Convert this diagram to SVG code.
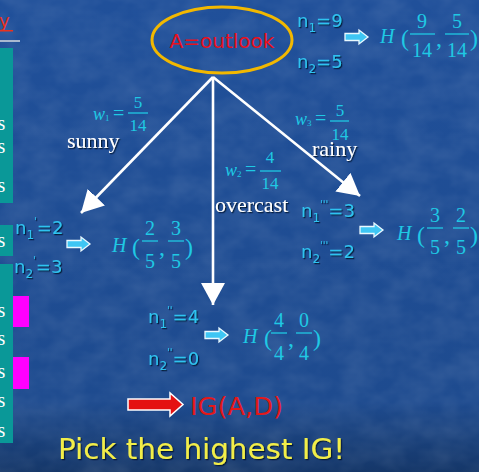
<svg xmlns="http://www.w3.org/2000/svg" width="479" height="472" viewBox="0 0 479 472">
  <defs>
    <linearGradient id="bg" x1="0" y1="0" x2="0" y2="1">
      <stop offset="0" stop-color="#20509a"/>
      <stop offset="0.85" stop-color="#1e4b8f"/>
      <stop offset="1" stop-color="#153769"/>
    </linearGradient>
    <filter id="tex" x="0" y="0" width="100%" height="100%">
      <feTurbulence type="fractalNoise" baseFrequency="0.035 0.05" numOctaves="3" seed="7"/>
      <feColorMatrix type="matrix" values="0 0 0 0 1  0 0 0 0 1  0 0 0 0 1  0 0 0 0.14 -0.04"/>
    </filter>
    <filter id="sh" x="-10%" y="-10%" width="130%" height="140%">
      <feDropShadow dx="1.2" dy="1.2" stdDeviation="0.4" flood-color="#031533" flood-opacity="0.9"/>
    </filter>
    <marker id="head" viewBox="0 0 22 24" refX="22" refY="12" markerWidth="22" markerHeight="24" markerUnits="userSpaceOnUse" orient="auto">
      <path d="M0,0 L22,12 L0,24 Z" fill="#ffffff"/>
    </marker>
    <path id="carrow" d="M0,-3.5 H14 V-7 L23,0 L14,7 V3.5 H0 Z" fill="#3ec6f4" stroke="#eaf9ff" stroke-width="1.3"/>
    <style>
      .n { font-family: "DejaVu Sans", sans-serif; font-size: 18px; fill: #2fc3f0; filter: url(#sh); }
      .sub { font-size: 12px; }
      .pr { font-size: 10px; }
      .m { font-family: "Liberation Serif", serif; fill: #1fc9e4; }
      .fr { font-size: 20px; text-anchor: middle; }
      .fw { font-size: 17px; text-anchor: middle; }
      .H { font-size: 20px; font-style: italic; }
      .par { font-size: 24px; }
      .wi { font-size: 18px; font-style: italic; }
      .ws { font-size: 9px; }
      .eq { font-size: 20px; }
      .bar { stroke: #1fc9e4; stroke-width: 1.3; }
      .lbl { font-family: "Liberation Serif", serif; font-size: 22px; fill: #ffffff; filter: url(#sh); }
      .s { font-family: "Liberation Serif", serif; font-size: 20px; fill: #ffffff; }
      .edge { stroke: #ffffff; stroke-width: 2.6; fill: none; marker-end: url(#head); }
    </style>
  </defs>

  <rect x="0" y="0" width="479" height="472" fill="url(#bg)"/>
  <rect x="0" y="0" width="479" height="472" filter="url(#tex)"/>

  <!-- left table fragment -->
  <g id="table-fragment">
    <text x="-1" y="27" font-family="DejaVu Sans, sans-serif" font-size="18" fill="#e8321e">y</text>
    <rect x="0" y="30" width="13" height="1.5" fill="#e8321e"/>
    <rect x="0" y="40" width="20" height="2" fill="#a8b8d0"/>
    <rect x="0" y="48" width="13" height="155" fill="#0a9898"/>
    <rect x="0" y="225" width="13" height="31" fill="#0a9898"/>
    <rect x="0" y="264" width="13" height="179" fill="#0a9898"/>
    <rect x="13" y="296" width="16" height="31" fill="#ff00ff"/>
    <rect x="13" y="357" width="16" height="32" fill="#ff00ff"/>
    <text class="s" x="-2.5" y="130">s</text>
    <text class="s" x="-2.5" y="153">s</text>
    <text class="s" x="-2.5" y="192">s</text>
    <text class="s" x="-2.5" y="247">s</text>
    <text class="s" x="-2.5" y="317">s</text>
    <text class="s" x="-2.5" y="345">s</text>
    <text class="s" x="-2.5" y="378">s</text>
    <text class="s" x="-2.5" y="407">s</text>
    <text class="s" x="-2.5" y="437">s</text>
  </g>

  <!-- connectors -->
  <g id="connectors">
    <line class="edge" x1="213" y1="77" x2="81" y2="213"/>
    <line class="edge" x1="213" y1="77" x2="213" y2="305"/>
    <line class="edge" x1="213" y1="77" x2="360" y2="196"/>
    <text class="lbl" x="67" y="148">sunny</text>
    <text class="lbl" x="215" y="212">overcast</text>
    <text class="lbl" x="312" y="156">rainy</text>
    <!-- w1 -->
    <g class="m">
      <text class="wi" x="93" y="120">w</text>
      <text class="ws" x="105" y="121">1</text>
      <text class="eq" x="113" y="120">=</text>
      <text class="fw" x="138" y="108">5</text>
      <line class="bar" x1="128" y1="113" x2="148" y2="113"/>
      <text class="fw" x="138" y="131">14</text>
    </g>
    <!-- w2 -->
    <g class="m">
      <text class="wi" x="225" y="176">w</text>
      <text class="ws" x="237" y="177">2</text>
      <text class="eq" x="245" y="176">=</text>
      <text class="fw" x="270" y="163">4</text>
      <line class="bar" x1="260" y1="171" x2="281" y2="171"/>
      <text class="fw" x="270" y="189">14</text>
    </g>
    <!-- w3 -->
    <g class="m">
      <text class="wi" x="295" y="125">w</text>
      <text class="ws" x="307" y="126">3</text>
      <text class="eq" x="315" y="125">=</text>
      <text class="fw" x="340" y="116">5</text>
      <line class="bar" x1="330" y1="121" x2="349" y2="121"/>
      <text class="fw" x="340" y="140">14</text>
    </g>
  </g>

  <!-- root node -->
  <g id="node-root">
    <ellipse cx="222" cy="40" rx="70" ry="33" fill="none" stroke="#f2b800" stroke-width="3"/>
    <text x="222" y="48" text-anchor="middle" font-family="DejaVu Sans, sans-serif" font-size="20" fill="#e8101c">A=outlook</text>
  </g>

  <!-- root statistics -->
  <g id="node-root-stats">
    <text class="n" x="297" y="27">n<tspan class="sub" dy="5">1</tspan><tspan dy="-5">=9</tspan></text>
    <text class="n" x="297" y="68">n<tspan class="sub" dy="5">2</tspan><tspan dy="-5">=5</tspan></text>
    <use href="#carrow" x="345" y="37"/>
    <g class="m">
      <text class="H" x="380" y="43">H</text>
      <text class="par" x="401" y="46">(</text>
      <text class="fr" x="422" y="28">9</text>
      <line class="bar" x1="410" y1="34" x2="435" y2="34"/>
      <text class="fr" x="422" y="57">14</text>
      <text class="par" x="436" y="46">,</text>
      <text class="fr" x="457" y="28">5</text>
      <line class="bar" x1="445" y1="34" x2="469" y2="34"/>
      <text class="fr" x="457" y="57">14</text>
      <text class="par" x="470" y="46">)</text>
    </g>
  </g>

  <!-- sunny branch -->
  <g id="node-sunny">
    <text class="n" x="15" y="234">n<tspan class="sub" dy="5">1</tspan><tspan class="pr" dy="-14">'</tspan><tspan dy="9">=2</tspan></text>
    <text class="n" x="14" y="273">n<tspan class="sub" dy="5">2</tspan><tspan class="pr" dy="-14">'</tspan><tspan dy="9">=3</tspan></text>
    <use href="#carrow" x="67" y="244"/>
    <g class="m">
      <text class="H" x="112" y="252">H</text>
      <text class="par" x="132" y="255">(</text>
      <text class="fr" x="150" y="235">2</text>
      <line class="bar" x1="142" y1="241" x2="158" y2="241"/>
      <text class="fr" x="150" y="268">5</text>
      <text class="par" x="159" y="255">,</text>
      <text class="fr" x="176" y="235">3</text>
      <line class="bar" x1="168" y1="241" x2="184" y2="241"/>
      <text class="fr" x="176" y="268">5</text>
      <text class="par" x="185" y="255">)</text>
    </g>
  </g>

  <!-- overcast branch -->
  <g id="node-overcast">
    <text class="n" x="148" y="323">n<tspan class="sub" dy="5">1</tspan><tspan class="pr" dy="-14">''</tspan><tspan dy="9">=4</tspan></text>
    <text class="n" x="148" y="365">n<tspan class="sub" dy="5">2</tspan><tspan class="pr" dy="-14">''</tspan><tspan dy="9">=0</tspan></text>
    <use href="#carrow" x="205" y="335"/>
    <g class="m">
      <text class="H" x="243" y="343">H</text>
      <text class="par" x="264" y="346">(</text>
      <text class="fr" x="279" y="327">4</text>
      <line class="bar" x1="271" y1="333" x2="287" y2="333"/>
      <text class="fr" x="279" y="360">4</text>
      <text class="par" x="288" y="346">,</text>
      <text class="fr" x="304" y="327">0</text>
      <line class="bar" x1="296" y1="333" x2="312" y2="333"/>
      <text class="fr" x="304" y="360">4</text>
      <text class="par" x="313" y="346">)</text>
    </g>
  </g>

  <!-- rainy branch -->
  <g id="node-rainy">
    <text class="n" x="301" y="217">n<tspan class="sub" dy="5">1</tspan><tspan class="pr" dy="-14">'''</tspan><tspan dy="9">=3</tspan></text>
    <text class="n" x="301" y="258">n<tspan class="sub" dy="5">2</tspan><tspan class="pr" dy="-14">'''</tspan><tspan dy="9">=2</tspan></text>
    <use href="#carrow" x="360" y="230"/>
    <g class="m">
      <text class="H" x="397" y="240">H</text>
      <text class="par" x="417" y="243">(</text>
      <text class="fr" x="435" y="222">3</text>
      <line class="bar" x1="427" y1="228" x2="443" y2="228"/>
      <text class="fr" x="435" y="254">5</text>
      <text class="par" x="444" y="243">,</text>
      <text class="fr" x="461" y="222">2</text>
      <line class="bar" x1="453" y1="228" x2="469" y2="228"/>
      <text class="fr" x="461" y="254">5</text>
      <text class="par" x="470" y="243">)</text>
    </g>
  </g>

  <!-- information gain -->
  <g id="node-ig">
    <path d="M128,399 H170 V393 L183,404.5 L170,416 V410 H128 Z" fill="#e41212" stroke="#ffffff" stroke-width="1.5"/>
    <text x="190" y="415" font-family="DejaVu Sans, sans-serif" font-size="24" fill="#e41818" textLength="93" lengthAdjust="spacingAndGlyphs">IG(A,D)</text>
  </g>

  <g id="caption">
    <text x="58" y="459" font-family="DejaVu Sans, sans-serif" font-size="29" fill="#f2ee4a" filter="url(#sh)" textLength="287" lengthAdjust="spacingAndGlyphs">Pick the highest IG!</text>
  </g>
</svg>
